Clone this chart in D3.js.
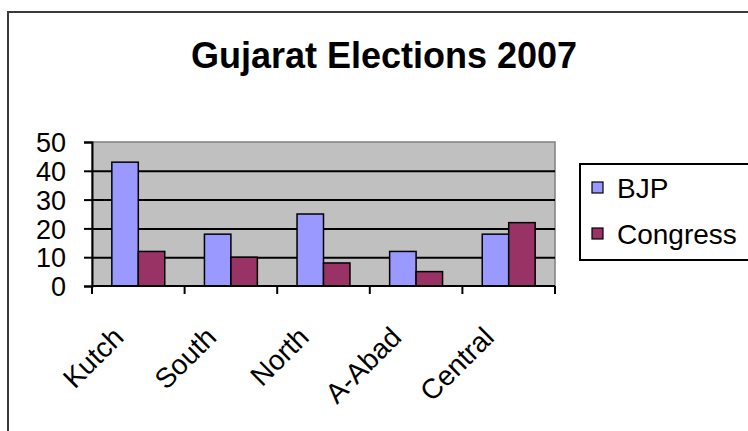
<!DOCTYPE html>
<html>
<head>
<meta charset="utf-8">
<script src="https://cdn.jsdelivr.net/npm/d3@7"></script>
<style>
  html, body { margin: 0; padding: 0; background: #ffffff; }
  svg { display: block; }
  text { font-family: "Liberation Sans", Arial, sans-serif; fill: #000; }
</style>
</head>
<body>
<svg id="chart" width="748" height="431"></svg>
<script>
const categories = ["Kutch", "South", "North", "A-Abad", "Central"];
const seriesNames = ["BJP", "Congress"];
const bjp = [43, 18, 25, 12, 18];
const congress = [12, 10, 8, 5, 22];
const yTicks = [0, 10, 20, 30, 40, 50];
const title = "Gujarat Elections 2007";
const colors = ["#9999ff", "#993366"];

const svg = d3.select("#chart");

// outer chart border
svg.append("rect")
  .attr("x", 8).attr("y", 12).attr("width", 760).attr("height", 440)
  .attr("fill", "#ffffff").attr("stroke", "#3a3a3a").attr("stroke-width", 2);

const plot = { left: 92, right: 555, top: 142, bottom: 286 };

const x = d3.scaleBand().domain(categories).range([plot.left, plot.right]).padding(0);
const inner = d3.scaleBand().domain(seriesNames)
  .range([0, x.bandwidth()]).paddingOuter(0.75).paddingInner(0);
const y = d3.scaleLinear().domain([0, 50]).range([plot.bottom, plot.top]);

// plot background
svg.append("rect")
  .attr("x", plot.left).attr("y", plot.top)
  .attr("width", plot.right - plot.left).attr("height", plot.bottom - plot.top)
  .attr("fill", "#c0c0c0").attr("stroke", "#808080").attr("stroke-width", 1.5);

// gridlines
svg.append("g")
  .attr("transform", `translate(${plot.left},0)`)
  .call(d3.axisLeft(y).tickValues(yTicks.filter(v => v > 0 && v < 50))
    .tickSize(-(plot.right - plot.left)).tickFormat(""))
  .call(g => g.select(".domain").remove())
  .call(g => g.selectAll("line").attr("stroke", "#000").attr("stroke-width", 2));

// bars
const rows = categories.map((c, i) => ({ cat: c, vals: [bjp[i], congress[i]] }));
const groups = svg.append("g").selectAll("g").data(rows).join("g")
  .attr("transform", d => `translate(${x(d.cat)},0)`);
groups.selectAll("rect")
  .data(d => d.vals.map((v, j) => ({ name: seriesNames[j], v, j })))
  .join("rect")
  .attr("x", d => inner(d.name))
  .attr("y", d => y(d.v))
  .attr("width", inner.bandwidth())
  .attr("height", d => y(0) - y(d.v))
  .attr("fill", d => colors[d.j])
  .attr("stroke", "#000").attr("stroke-width", 1.5);

// y axis
const yAxis = svg.append("g")
  .attr("transform", `translate(${plot.left},0)`)
  .call(d3.axisLeft(y).tickValues(yTicks).tickSize(8).tickPadding(18));
yAxis.select(".domain").attr("stroke", "#000").attr("stroke-width", 2);
yAxis.selectAll("line").attr("stroke", "#000").attr("stroke-width", 2);
yAxis.selectAll("text").style("font-size", "27px").attr("dy", "0.36em");

// x axis
const xAxis = svg.append("g").attr("transform", `translate(0,${plot.bottom})`);
xAxis.append("line")
  .attr("x1", plot.left).attr("x2", plot.right)
  .attr("stroke", "#000").attr("stroke-width", 2);
const boundaries = categories.map(c => x(c)).concat([x(categories[categories.length - 1]) + x.bandwidth()]);
xAxis.selectAll("line.tick").data(boundaries).join("line")
  .attr("class", "tick")
  .attr("x1", d => d).attr("x2", d => d)
  .attr("y1", 0).attr("y2", 8)
  .attr("stroke", "#000").attr("stroke-width", 2);
xAxis.selectAll("text").data(categories).join("text")
  .attr("transform", d => `translate(${x(d) + x.bandwidth() / 2 - 13},53) rotate(-45)`)
  .attr("text-anchor", "end")
  .style("font-size", "28px")
  .text(d => d);

// title
svg.append("text")
  .attr("x", 384).attr("y", 68)
  .attr("text-anchor", "middle")
  .style("font-size", "36px").style("font-weight", "bold")
  .text(title);

// legend
const legend = svg.append("g").attr("transform", "translate(580,164)");
legend.append("rect")
  .attr("x", 0).attr("y", 0).attr("width", 200).attr("height", 96)
  .attr("fill", "#fff").attr("stroke", "#000").attr("stroke-width", 2);
const items = legend.selectAll("g.item").data(seriesNames).join("g")
  .attr("class", "item")
  .attr("transform", (d, i) => `translate(12,${18 + i * 46})`);
items.append("rect")
  .attr("width", 11).attr("height", 11)
  .attr("fill", (d, i) => colors[i]).attr("stroke", "#000").attr("stroke-width", 1.2);
items.append("text")
  .attr("x", 25).attr("y", 16)
  .style("font-size", "28px")
  .text(d => d);
</script>
</body>
</html>
